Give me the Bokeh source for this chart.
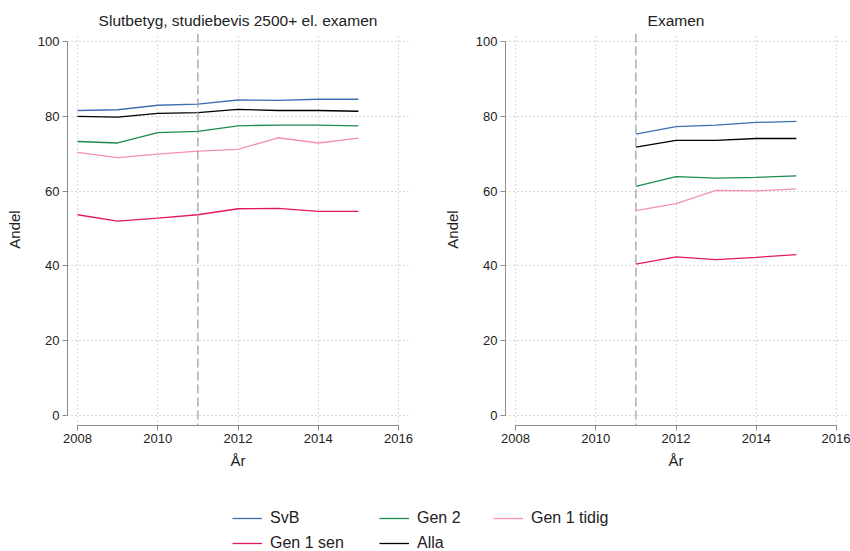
from bokeh.plotting import figure
from bokeh.layouts import column, row
from bokeh.models import Span, Legend, LegendItem, Range1d, FixedTicker
from bokeh.embed import file_html
from bokeh.resources import INLINE

# Share (%) by group and year
years_left = [2008, 2009, 2010, 2011, 2012, 2013, 2014, 2015]
svb_left = [81.6, 81.8, 83.0, 83.3, 84.4, 84.3, 84.6, 84.6]
gen1sen_left = [53.7, 52.0, 52.8, 53.7, 55.3, 55.4, 54.6, 54.6]
gen2_left = [73.3, 72.9, 75.7, 76.0, 77.5, 77.7, 77.7, 77.5]
alla_left = [80.0, 79.8, 80.8, 81.0, 81.9, 81.6, 81.6, 81.4]
gen1tidig_left = [70.4, 69.0, 69.9, 70.7, 71.2, 74.3, 72.9, 74.2]

years_right = [2011, 2012, 2013, 2014, 2015]
svb_right = [75.3, 77.3, 77.7, 78.4, 78.7]
gen1sen_right = [40.5, 42.4, 41.7, 42.3, 43.0]
gen2_right = [61.3, 63.9, 63.5, 63.7, 64.1]
alla_right = [71.8, 73.6, 73.6, 74.1, 74.1]
gen1tidig_right = [54.8, 56.7, 60.2, 60.1, 60.6]

group_names = ["SvB", "Gen 1 sen", "Gen 2", "Alla", "Gen 1 tidig"]
group_colors = ["#3d6eb4", "#e4195b", "#1a8c4e", "#000000", "#f590b2"]

x_ticks = [2008, 2010, 2012, 2014, 2016]
y_ticks = [0, 20, 40, 60, 80, 100]
reform_year = 2011

FONT = "Liberation Sans"
AXIS_GREY = "#8c8c8c"
TEXT = "#222222"


def make_panel(title, years, series, border_left, border_right):
    p = figure(width=425, height=472, output_backend="svg", toolbar_location=None,
               x_range=Range1d(2007.75, 2016.25), y_range=Range1d(-2.7, 102.2),
               min_border_left=border_left, min_border_right=border_right,
               min_border_top=33, min_border_bottom=47,
               x_axis_label="År", y_axis_label="Andel")
    p.outline_line_color = None
    p.background_fill_color = "white"
    p.border_fill_color = "white"

    p.title.text = title
    p.title.align = "center"
    p.title.text_font = FONT
    p.title.text_font_size = "15.5px"
    p.title.text_font_style = "normal"
    p.title.text_color = TEXT
    p.title.standoff = 9

    p.xaxis.ticker = FixedTicker(ticks=x_ticks)
    p.yaxis.ticker = FixedTicker(ticks=y_ticks)
    p.xaxis.bounds = (2008, 2016)
    p.yaxis.bounds = (0, 100)
    for ax in (p.xaxis, p.yaxis):
        ax.axis_line_color = AXIS_GREY
        ax.axis_line_width = 1
        ax.major_tick_line_color = AXIS_GREY
        ax.major_tick_out = 5
        ax.major_tick_in = 0
        ax.minor_tick_line_color = None
        ax.major_label_text_font = FONT
        ax.major_label_text_font_size = "13px"
        ax.major_label_text_color = TEXT
        ax.major_label_standoff = 3
        ax.axis_label_text_font = FONT
        ax.axis_label_text_font_size = "15px"
        ax.axis_label_text_font_style = "normal"
        ax.axis_label_text_color = TEXT
    p.xaxis.axis_label_standoff = 6
    p.yaxis.axis_label_standoff = 12
    p.yaxis.major_label_orientation = "horizontal"

    p.grid.grid_line_color = "#b4b4b4"
    p.grid.grid_line_dash = "1 3"
    p.grid.grid_line_width = 1

    p.add_layout(Span(location=reform_year, dimension="height", line_color="#9a9a9a",
                      line_dash="9 4", line_width=1.2))

    for vals, color in zip(series, group_colors):
        p.line(years, vals, line_color=color, line_width=1.3)
    return p


p_left = make_panel("Slutbetyg, studiebevis 2500+ el. examen", years_left,
                    [svb_left, gen1sen_left, gen2_left, alla_left, gen1tidig_left], 67, 17)
p_right = make_panel("Examen", years_right,
                     [svb_right, gen1sen_right, gen2_right, alla_right, gen1tidig_right], 80, 4)

# Shared legend below both panels; swatch lines sit outside the visible range
p_leg = figure(width=850, height=79, output_backend="svg", toolbar_location=None,
               x_range=Range1d(0, 1), y_range=Range1d(0, 1),
               x_axis_location=None, y_axis_location=None,
               min_border=0, min_border_left=0, min_border_right=0,
               min_border_top=0, min_border_bottom=0)
p_leg.outline_line_color = None
p_leg.grid.visible = False
swatches = [p_leg.line(x=[-10, -9], y=[-10, -10], line_color=c, line_width=1.3)
            for c in group_colors]

# (item indices, left edge, bottom offset) per legend column
columns = [([0, 1], 232, -1), ([2, 3], 379, -1), ([4], 493, 24)]
for idx, xpos, ybottom in columns:
    leg = Legend(items=[LegendItem(label=group_names[i], renderers=[swatches[i]]) for i in idx],
                 location=(xpos, ybottom), orientation="vertical",
                 glyph_width=30, glyph_height=18, label_height=18, label_width=10,
                 label_standoff=8, spacing=7, padding=0, margin=0,
                 border_line_color=None, background_fill_alpha=0,
                 label_text_font=FONT, label_text_font_size="16px", label_text_color=TEXT)
    p_leg.add_layout(leg, "center")

layout = column(row(p_left, p_right), p_leg)

with open("out.html", "w") as f:
    f.write(file_html(layout, INLINE))
